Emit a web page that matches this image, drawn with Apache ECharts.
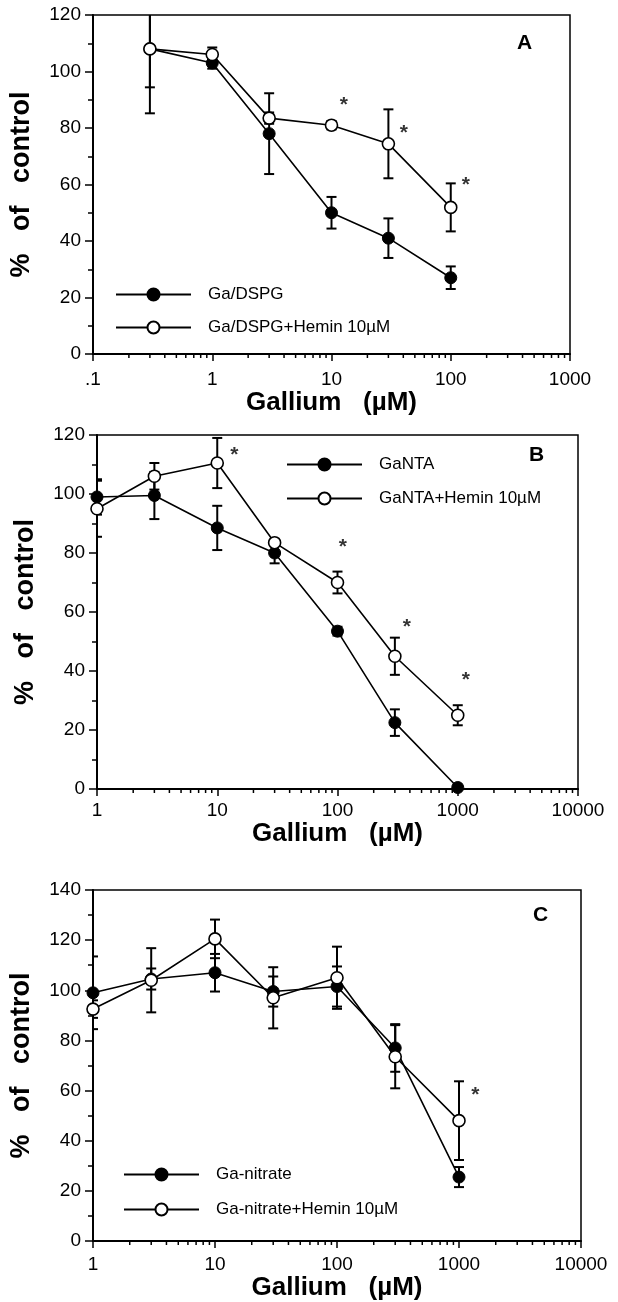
<!DOCTYPE html>
<html>
<head>
<meta charset="utf-8">
<script src="https://cdn.jsdelivr.net/npm/echarts@6/dist/echarts.min.js"></script>
<style>
  html, body { margin: 0; padding: 0; background: #fff; }
  #chart { width: 618px; height: 1302px; }
</style>
</head>
<body>
<div id="chart"></div>
<script>
// panel A - Ga/DSPG
var concA = [0.3, 1, 3, 10, 30, 100];
var dspg = [108, 103, 78, 50, 41, 27];
var dspgErr = [22.8, 2, 14.3, 5.6, 7, 4];
var dspgHemin = [108, 106, 83.5, 81, 74.4, 51.9];
var dspgHeminErr = [13.6, 2.5, 2, 1.5, 12.2, 8.5];
var starsA = [[12.7, 90], [40.5, 80], [134, 61.5]];

// panel B - GaNTA
var concB = [1, 3, 10, 30, 100, 300, 1000];
var ganta = [99, 99.5, 88.5, 80, 53.5, 22.5, 0.5];
var gantaErr = [6, 8, 7.5, 3.5, 1.5, 4.5, 0.5];
var gantaHemin = [95, 106, 110.5, 83.5, 70, 45, 25];
var gantaHeminErr = [9.5, 4.5, 8.5, 1, 3.7, 6.3, 3.4];
var starsB = [[13.9, 115], [111, 83.5], [378, 56.5], [1170, 38.5]];

// panel C - Ga-nitrate
var concC = [1, 3, 10, 30, 100, 300, 1000];
var nitrate = [99, 104.5, 107, 99.5, 101.5, 77, 25.5];
var nitrateErr = [14.5, 4.2, 7.5, 6, 8, 9.5, 4];
var nitrateHemin = [92.5, 104, 120.5, 97, 105, 73.5, 48];
var nitrateHeminErr = [3.5, 12.8, 7.7, 12.2, 12.4, 12.6, 15.7];
var starsC = [[1360, 60]];

var FONT = '"Liberation Sans", Arial, Helvetica, sans-serif';

function pairs(xs, ys) {
    return xs.map(function (x, i) { return [x, ys[i]]; });
}
function errData(xs, ys, es) {
    return xs.map(function (x, i) { return [x, ys[i] - es[i], ys[i] + es[i]]; });
}
// 2..9 inside each decade, for the small log ticks
function minorTicks(lo, hi) {
    var out = [];
    for (var d = lo; d < hi; d *= 10) {
        for (var m = 2; m <= 9; m++) out.push([+(m * d).toPrecision(3), 0]);
    }
    return out;
}

function errSeries(idx, data) {
    return {
        type: 'custom',
        xAxisIndex: idx, yAxisIndex: idx,
        clip: true,
        z: 1,
        silent: true,
        encode: {x: 0, y: [1, 2]},
        data: data,
        renderItem: function (params, api) {
            var lo = api.coord([api.value(0), api.value(1)]);
            var hi = api.coord([api.value(0), api.value(2)]);
            var w = 5;
            var st = {stroke: '#000', lineWidth: 2};
            return {
                type: 'group',
                children: [
                    {type: 'line', shape: {x1: lo[0], y1: lo[1], x2: hi[0], y2: hi[1]}, style: st},
                    {type: 'line', shape: {x1: lo[0] - w, y1: lo[1], x2: lo[0] + w, y2: lo[1]}, style: st},
                    {type: 'line', shape: {x1: hi[0] - w, y1: hi[1], x2: hi[0] + w, y2: hi[1]}, style: st}
                ]
            };
        }
    };
}

function minorSeries(idx, lo, hi) {
    return {
        type: 'custom',
        xAxisIndex: idx, yAxisIndex: idx,
        clip: false,
        silent: true,
        data: minorTicks(lo, hi),
        renderItem: function (params, api) {
            var p = api.coord([api.value(0), api.value(1)]);
            return {type: 'line', shape: {x1: p[0], y1: p[1], x2: p[0], y2: p[1] + 4},
                style: {stroke: '#000', lineWidth: 1.5}};
        }
    };
}

function lineSeries(idx, name, data, open) {
    return {
        type: 'line',
        name: name,
        xAxisIndex: idx, yAxisIndex: idx,
        data: data,
        z: 3,
        symbol: 'circle',
        symbolSize: 12,
        showAllSymbol: true,
        lineStyle: {color: '#000', width: 1.6},
        itemStyle: open ? {color: '#fff', borderColor: '#000', borderWidth: 1.6}
                        : {color: '#000', borderColor: '#000', borderWidth: 1},
        emphasis: {disabled: true}
    };
}

function starSeries(idx, data) {
    return {
        type: 'scatter',
        xAxisIndex: idx, yAxisIndex: idx,
        data: data,
        symbolSize: 0,
        silent: true,
        label: {show: true, position: 'inside', formatter: '*', color: '#000',
            fontSize: 21, fontWeight: 'bold', fontFamily: FONT, offset: [0, 5]}
    };
}

function xAxis(idx, min, max, labelMargin, nameGap) {
    return {
        type: 'log', logBase: 10, gridIndex: idx,
        min: min, max: max,
        name: 'Gallium   (µM)', nameLocation: 'middle', nameGap: nameGap,
        nameTextStyle: {fontSize: 26, fontWeight: 'bold', fontFamily: FONT, color: '#000'},
        axisLine: {lineStyle: {color: '#000', width: 2}},
        axisTick: {inside: false, length: 7, lineStyle: {color: '#000', width: 1.5}},
        axisLabel: {color: '#000', fontSize: 19, fontFamily: FONT, margin: labelMargin,
            formatter: function (v) { return String(v).replace(/^0\./, '.'); }},
        splitLine: {show: false}
    };
}

function yAxis(idx, max) {
    return {
        type: 'value', gridIndex: idx,
        min: 0, max: max, interval: 20,
        name: '%   of   control', nameLocation: 'middle', nameGap: 58,
        nameTextStyle: {fontSize: 27, fontWeight: 'bold', fontFamily: FONT, color: '#000'},
        axisLine: {show: true, lineStyle: {color: '#000', width: 2}},
        axisTick: {inside: false, length: 8, lineStyle: {color: '#000', width: 1.5}},
        minorTick: {show: true, splitNumber: 2, length: 5, lineStyle: {color: '#000', width: 1.5}},
        axisLabel: {color: '#000', fontSize: 19, fontFamily: FONT, margin: 12},
        splitLine: {show: false}
    };
}

function legend(names, left, top, gap) {
    return {
        data: names, left: left, top: top, orient: 'vertical',
        itemWidth: 75, itemHeight: 15, itemGap: gap,
        selectedMode: false,
        textStyle: {fontSize: 17, fontFamily: FONT, color: '#000', padding: [0, 0, 0, 12]}
    };
}

function panelLabel(text, left, top) {
    return {text: text, left: left, top: top, padding: 0,
        textStyle: {fontSize: 21, fontWeight: 'bold', fontFamily: FONT, color: '#000'}};
}

var chart = echarts.init(document.getElementById('chart'));
chart.setOption({
    animation: false,
    backgroundColor: '#fff',
    title: [
        panelLabel('A', 517, 33),
        panelLabel('B', 529, 445),
        panelLabel('C', 533, 905)
    ],
    grid: [
        {left: 93, top: 15, width: 477, height: 339, show: true, borderColor: '#000', borderWidth: 1.5},
        {left: 97, top: 435, width: 481, height: 354, show: true, borderColor: '#000', borderWidth: 1.5},
        {left: 93, top: 890, width: 488, height: 351, show: true, borderColor: '#000', borderWidth: 1.5}
    ],
    xAxis: [
        xAxis(0, 0.1, 1000, 16, 36),
        xAxis(1, 1, 10000, 12, 30),
        xAxis(2, 1, 10000, 14, 34)
    ],
    yAxis: [yAxis(0, 120), yAxis(1, 120), yAxis(2, 140)],
    legend: [
        legend(['Ga/DSPG', 'Ga/DSPG+Hemin 10µM'], 110, 281, 16),
        legend(['GaNTA', 'GaNTA+Hemin 10µM'], 281, 451, 17),
        legend(['Ga-nitrate', 'Ga-nitrate+Hemin 10µM'], 118, 1161, 18)
    ],
    series: [
        minorSeries(0, 0.1, 1000),
        minorSeries(1, 1, 10000),
        minorSeries(2, 1, 10000),

        errSeries(0, errData(concA, dspg, dspgErr)),
        errSeries(0, errData(concA, dspgHemin, dspgHeminErr)),
        lineSeries(0, 'Ga/DSPG', pairs(concA, dspg), false),
        lineSeries(0, 'Ga/DSPG+Hemin 10µM', pairs(concA, dspgHemin), true),
        starSeries(0, starsA),

        errSeries(1, errData(concB, ganta, gantaErr)),
        errSeries(1, errData(concB, gantaHemin, gantaHeminErr)),
        lineSeries(1, 'GaNTA', pairs(concB, ganta), false),
        lineSeries(1, 'GaNTA+Hemin 10µM', pairs(concB, gantaHemin), true),
        starSeries(1, starsB),

        errSeries(2, errData(concC, nitrate, nitrateErr)),
        errSeries(2, errData(concC, nitrateHemin, nitrateHeminErr)),
        lineSeries(2, 'Ga-nitrate', pairs(concC, nitrate), false),
        lineSeries(2, 'Ga-nitrate+Hemin 10µM', pairs(concC, nitrateHemin), true),
        starSeries(2, starsC)
    ]
});
</script>
</body>
</html>
